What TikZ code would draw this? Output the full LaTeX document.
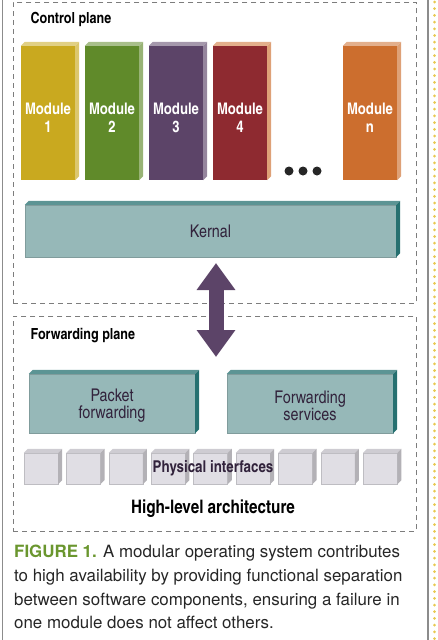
\documentclass[tikz,border=0pt]{standalone}
\usepackage{fontspec}
\setmainfont{texgyreheroscn}[Extension=.otf, UprightFont=*-regular, BoldFont=*-bold]
\newfontfamily\capfont{texgyreheros}[Extension=.otf, UprightFont=*-regular, BoldFont=*-bold]
\usetikzlibrary{positioning, calc, arrows.meta}
\definecolor{framegray}{RGB}{125,125,125}
\definecolor{rulegray}{RGB}{140,140,140}
\definecolor{dotyellow}{RGB}{232,200,80}
\definecolor{modyellow}{RGB}{201,169,31}
\definecolor{modgreen}{RGB}{96,138,42}
\definecolor{modpurple}{RGB}{92,68,104}
\definecolor{modred}{RGB}{142,42,48}
\definecolor{modorange}{RGB}{204,110,46}
\definecolor{kernfill}{RGB}{150,184,184}
\definecolor{kernside}{RGB}{38,112,112}
\definecolor{kerntext}{RGB}{50,35,60}
\definecolor{portgray}{RGB}{224,222,228}
\definecolor{figgreen}{RGB}{106,150,46}

\tikzset{
  plane/.style={draw=framegray, dash pattern=on 5pt off 4pt, line width=0.9pt,
    inner sep=0pt, anchor=north west},
  planelabel/.style={anchor=base west, font=\bfseries\fontsize{15.3}{17}\selectfont},
  module/.style={fill=#1, minimum width=54pt, minimum height=134pt, inner sep=0pt,
    text=white, align=center, font=\bfseries\fontsize{16}{18}\selectfont},
  slab/.style={fill=kernfill, draw=kernfill!85!black, inner sep=0pt, align=center,
    text=kerntext, font=\fontsize{17.5}{17.5}\selectfont},
  port/.style={fill=portgray, draw=portgray!85!black, line width=0.3pt,
    minimum width=34pt, minimum height=31pt, inner sep=0pt}
}

% top and right faces of a box: node, top colour, side colour
\newcommand{\boxfaces}[3]{%
  \fill[#2] (#1.north west) -- ([shift={(4pt,4pt)}]#1.north west)
    -- ([shift={(4pt,4pt)}]#1.north east) -- (#1.north east) -- cycle;
  \fill[#3] (#1.north east) -- ([shift={(4pt,4pt)}]#1.north east)
    -- ([shift={(4pt,4pt)}]#1.south east) -- (#1.south east) -- cycle;}
% module label, set a little below the middle
\newcommand{\modtext}[1]{\rule{0pt}{21pt}Module\\#1}

\begin{document}
\begin{tikzpicture}[x=1pt, y=-1pt]
  \useasboundingbox (0,0) rectangle (437,640);

  % page rules
  \draw[rulegray, line width=1.3pt] (2.5,0) -- (2.5,640);
  \draw[rulegray, line width=1.3pt] (428,0) -- (428,640);
  \draw[dotyellow, line width=3pt, line cap=round, dash pattern=on 0pt off 6.7pt] (434.5,2) -- (434.5,640);

  % planes
  \node[plane, minimum width=403pt, minimum height=301pt] (ctrl) at (13,2) {};
  \node[plane, minimum width=403pt, minimum height=215pt] (fwd) at (13,316) {};
  \node[planelabel] (ctrllabel) at (27,23) {Control plane};
  \node[planelabel] (fwdlabel) at (27,339) {Forwarding plane};

  % modules
  \foreach \c/\t [count=\i] in {modyellow/1, modgreen/2, modpurple/3, modred/4}{
    \node[module=\c] (mod\t) at (\i*64-16,113) {\modtext{\t}};
  }
  \node[module=modorange] (modn) at (370,113) {\modtext{n}};
  \foreach \n/\c in {mod1/modyellow, mod2/modgreen, mod3/modpurple, mod4/modorange, modn/modorange}{
    \boxfaces{\n}{\c!55!white}{\c!65!white}
  }
  \foreach \x [count=\i] in {289,303,317}{
    \node[circle, fill=black!85, minimum size=9pt, inner sep=0pt] (dot\i) at (\x,171) {};
  }

  % kernal
  \node[slab, minimum width=371pt, minimum height=52pt] (kernal) at (210.5,231) {Kernal};
  \boxfaces{kernal}{kernside!75!white}{kernside}

  % forwarding blocks
  \node[slab, minimum width=166pt, minimum height=59pt] (packet) at (112,403.5) {\rule{0pt}{17pt}Packet\\forwarding};
  \node[slab, minimum width=166pt, minimum height=59pt] (services) at (310,403.5) {\rule{0pt}{17pt}Forwarding\\services};
  \boxfaces{packet}{kernside!75!white}{kernside}
  \boxfaces{services}{kernside!75!white}{kernside}

  % physical interfaces
  \foreach \i in {0,...,8}{
    \node[port] (port\i) at (41+42.4*\i,468.5) {};
    \boxfaces{port\i}{portgray!92!black}{portgray!80!black}
  }
  \node[font=\bfseries\fontsize{16.3}{18}\selectfont, text=kerntext] (physlabel) at (213,468) {Physical interfaces};
  \node[font=\bfseries\fontsize{18.6}{20}\selectfont] (archlabel) at (213,509) {High-level architecture};

  % arrow between the planes
  \coordinate (arrtop) at (216,263);
  \coordinate (arrbot) at (216,357);
  \draw[modpurple, line width=15pt, {Triangle[width=37pt,length=27pt]}-{Triangle[width=37pt,length=27pt]}] (arrtop) -- (arrbot);

  % caption
  \node[anchor=north west, align=left, inner sep=0pt, font=\capfont\fontsize{16.9}{23.7}\selectfont, text=black!85] (caption) at (14,545)
    {{\color{figgreen}\bfseries FIGURE 1.} A modular operating system contributes\\
     to high availability by providing functional separation\\
     between software components, ensuring a failure in\\
     one module does not affect others.};
\end{tikzpicture}
\end{document}
